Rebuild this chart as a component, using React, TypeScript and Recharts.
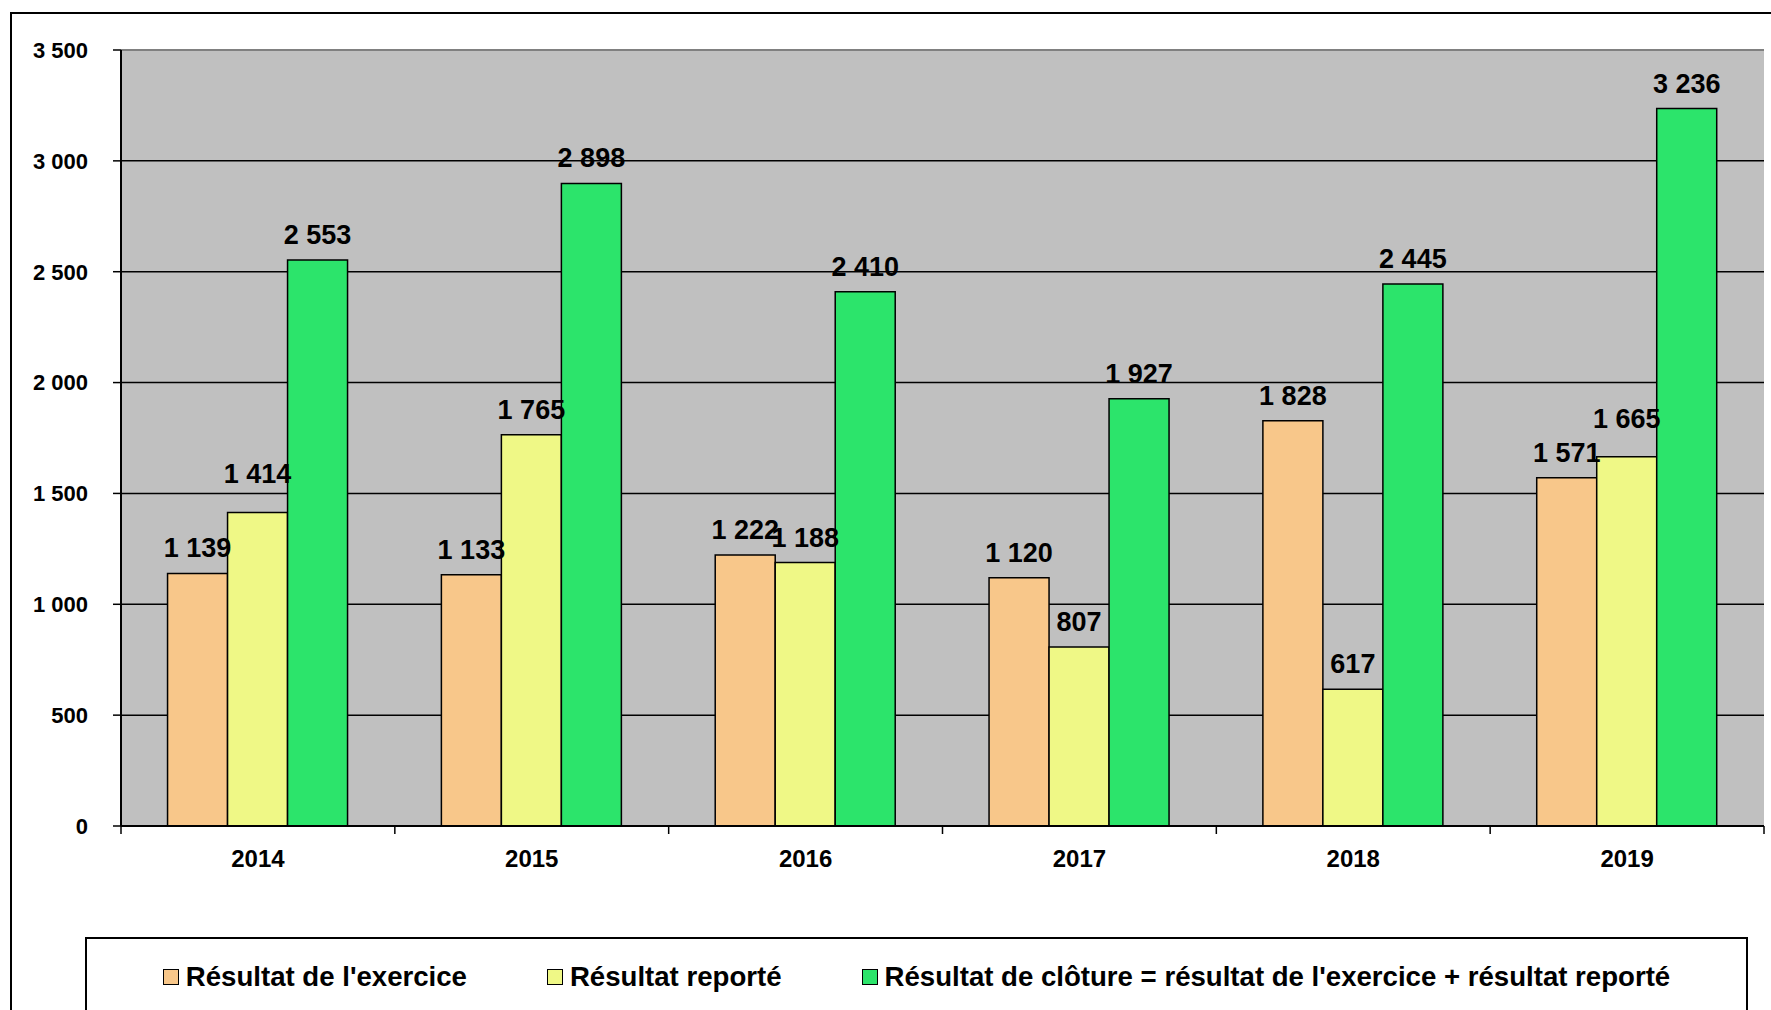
import React from "react";
import { BarChart, Bar, XAxis, YAxis, CartesianGrid, LabelList, ReferenceLine } from "recharts";

const years = ["2014", "2015", "2016", "2017", "2018", "2019"];
const resultatExercice = [1139, 1133, 1222, 1120, 1828, 1571];
const resultatReporte = [1414, 1765, 1188, 807, 617, 1665];
const resultatCloture = [2553, 2898, 2410, 1927, 2445, 3236];
const yTicks = [0, 500, 1000, 1500, 2000, 2500, 3000, 3500];
const seriesNames = [
  "Résultat de l'exercice",
  "Résultat reporté",
  "Résultat de clôture = résultat de l'exercice + résultat reporté",
];
const seriesColors = ["#F8C78A", "#EFF886", "#2CE46B"];

const data = years.map((y, i) => ({
  year: y,
  exercice: resultatExercice[i],
  reporte: resultatReporte[i],
  cloture: resultatCloture[i],
}));
const keys = ["exercice", "reporte", "cloture"];

const FONT = "'Liberation Sans', Arial, Helvetica, sans-serif";
const fmt = (n: number) => String(n).replace(/\B(?=(\d{3})+(?!\d))/g, " ");

const CHART_W = 1771;
const CHART_H = 1010;
const MARGIN = { top: 50, right: 7, left: 0, bottom: 124 };
const Y_W = 121;
const PLOT_W = CHART_W - MARGIN.left - MARGIN.right - Y_W;
const BAND = PLOT_W / years.length;

const XTick = (props: any) => {
  const { x, y, payload, index } = props;
  const left = x - BAND / 2;
  return (
    <g>
      <line x1={left} x2={left} y1={y} y2={y + 8} stroke="#000" strokeWidth={1.5} />
      {index === years.length - 1 && (
        <line x1={x + BAND / 2} x2={x + BAND / 2} y1={y} y2={y + 8} stroke="#000" strokeWidth={1.5} />
      )}
      <text x={x} y={y + 41} textAnchor="middle" fontFamily={FONT} fontWeight="bold" fontSize={24} fill="#000">
        {payload.value}
      </text>
    </g>
  );
};

// Labels of the "reporté" series are nudged upward when they would crowd the
// neighbouring "exercice" label (as the spreadsheet's label placement does).
const makeLabel = (seriesIndex: number) => (props: any) => {
  const { x, y, width, value, index } = props;
  let lift = 16;
  if (seriesIndex === 1) {
    const other = resultatExercice[index];
    if (value > other && value - other < 300) lift = 29;
  }
  return (
    <text
      x={x + width / 2}
      y={y - lift}
      textAnchor="middle"
      fontFamily={FONT}
      fontWeight="bold"
      fontSize={27}
      fill="#000"
    >
      {fmt(value)}
    </text>
  );
};

export default function App() {
  return (
    <div
      style={{
        position: "absolute",
        left: 0,
        top: 0,
        width: CHART_W,
        height: CHART_H,
        overflow: "hidden",
        background: "#fff",
      }}
    >
      <div
        style={{
          position: "absolute",
          left: 10,
          top: 12,
          width: 1850,
          height: 1100,
          border: "2px solid #000",
          boxSizing: "border-box",
        }}
      />
      <div style={{ position: "absolute", left: 0, top: 0 }}>
        <BarChart
          width={CHART_W}
          height={CHART_H}
          data={data}
          margin={MARGIN}
          barCategoryGap="17%"
          barGap={0}
        >
          <CartesianGrid
            vertical={false}
            stroke="#000"
            strokeWidth={1.5}
            fill="#C0C0C0"
            fillOpacity={1}
            horizontalValues={[500, 1000, 1500, 2000, 2500, 3000]}
          />
          <ReferenceLine y={3500} stroke="#808080" strokeWidth={2} />
          <XAxis
            dataKey="year"
            height={60}
            tickLine={false}
            tickSize={0}
            tickMargin={0}
            axisLine={{ stroke: "#000", strokeWidth: 2 }}
            tick={<XTick />}
            interval={0}
          />
          <YAxis
            width={Y_W}
            domain={[0, 3500]}
            ticks={yTicks}
            interval={0}
            tickFormatter={fmt}
            tickSize={8}
            tickMargin={25}
            tickLine={{ stroke: "#000", strokeWidth: 1.5 }}
            axisLine={{ stroke: "#000", strokeWidth: 2 }}
            tick={{ fontFamily: FONT, fontWeight: "bold", fontSize: 22, fill: "#000" }}
          />
          <YAxis
            yAxisId="right"
            orientation="right"
            width={0}
            domain={[0, 3500]}
            tick={false}
            tickLine={false}
            axisLine={{ stroke: "#808080", strokeWidth: 2 }}
          />
          {keys.map((k, i) => {
            const Label = makeLabel(i);
            return (
              <Bar
                key={k}
                dataKey={k}
                fill={seriesColors[i]}
                stroke="#000"
                strokeWidth={1.5}
                isAnimationActive={false}
              >
                <LabelList dataKey={k} content={<Label />} />
              </Bar>
            );
          })}
        </BarChart>
      </div>
      <div
        style={{
          position: "absolute",
          left: 85,
          top: 937,
          width: 1663,
          height: 200,
          border: "2px solid #000",
          boxSizing: "border-box",
          background: "#fff",
          display: "flex",
          justifyContent: "center",
          alignItems: "flex-start",
          paddingTop: 24,
          gap: 80,
          fontFamily: FONT,
          fontWeight: "bold",
          fontSize: 27.6,
          lineHeight: "28px",
          color: "#000",
        }}
      >
        {seriesNames.map((name, i) => (
          <div key={name} style={{ display: "flex", alignItems: "center", gap: 7, whiteSpace: "nowrap" }}>
            <span
              style={{
                display: "inline-block",
                width: 14,
                height: 14,
                background: seriesColors[i],
                border: "1.5px solid #000",
              }}
            />
            <span>{name}</span>
          </div>
        ))}
      </div>
    </div>
  );
}
